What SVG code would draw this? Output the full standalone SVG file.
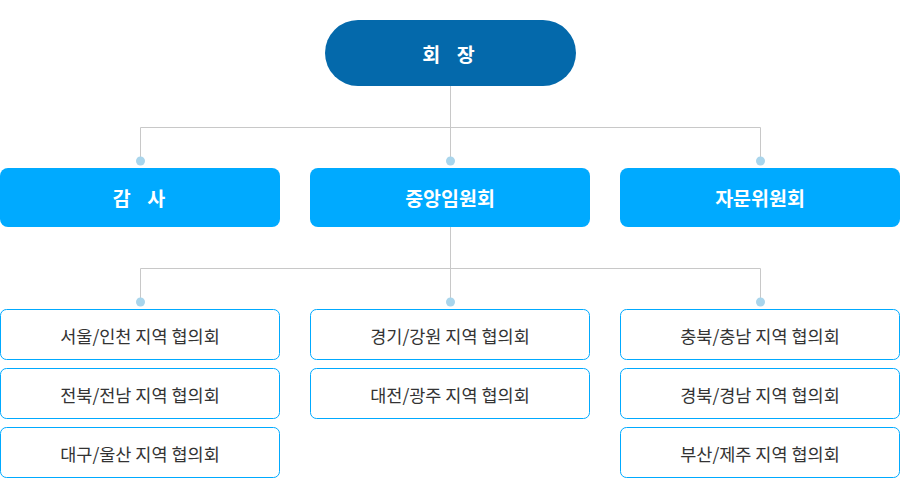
<svg xmlns="http://www.w3.org/2000/svg" width="900" height="500" viewBox="0 0 900 500">
<style>
.t{font-family:"Noto Sans CJK KR","Noto Sans",sans-serif;text-anchor:middle;dominant-baseline:central}
.w{fill:#fff;font-weight:bold;font-size:19.5px}
.sp{letter-spacing:6px}
.g{fill:#333;font-size:17.5px}
.l2{fill:#00aaff}
.l3{fill:#fff;stroke:#00aaff;stroke-width:1}
.ln{fill:none;stroke:#c8c8c8;stroke-width:1}
.dot{fill:#a9d5ec}
</style>
<rect width="900" height="500" fill="#fff"/>
<g id="connectors">
<path class="ln" d="M450.5 86V127.5M140.5 161V127.5H760.5V161M450.5 127.5V161"/>
<path class="ln" d="M450.5 227V268.5M140.5 302V268.5H760.5V302M450.5 268.5V302"/>
<circle class="dot" cx="140.5" cy="161" r="4.5"/>
<circle class="dot" cx="450.5" cy="161" r="4.5"/>
<circle class="dot" cx="760.5" cy="161" r="4.5"/>
<circle class="dot" cx="140.5" cy="302" r="4.5"/>
<circle class="dot" cx="450.5" cy="302" r="4.5"/>
<circle class="dot" cx="760.5" cy="302" r="4.5"/>
</g>
<g id="president"><rect x="325" y="20" width="251" height="66" rx="33" fill="#0469ab"/><text class="t w sp" x="451.5" y="53">회 장</text></g>
<g id="audit"><rect class="l2" x="0" y="168" width="280" height="59" rx="8"/><text class="t w sp" x="142" y="197.5">감 사</text></g>
<g id="central"><rect class="l2" x="310" y="168" width="280" height="59" rx="8"/><text class="t w" x="450" y="197.5">중앙임원회</text></g>
<g id="advisory"><rect class="l2" x="620" y="168" width="280" height="59" rx="8"/><text class="t w" x="760" y="197.5">자문위원회</text></g>
<g id="seoul"><rect class="l3" x="0.5" y="309.5" width="279" height="50" rx="6"/><text class="t g" x="140" y="335">서울/인천 지역 협의회</text></g>
<g id="jeonbuk"><rect class="l3" x="0.5" y="368.5" width="279" height="50" rx="6"/><text class="t g" x="140" y="394">전북/전남 지역 협의회</text></g>
<g id="daegu"><rect class="l3" x="0.5" y="427.5" width="279" height="50" rx="6"/><text class="t g" x="140" y="453">대구/울산 지역 협의회</text></g>
<g id="gyeonggi"><rect class="l3" x="310.5" y="309.5" width="279" height="50" rx="6"/><text class="t g" x="450" y="335">경기/강원 지역 협의회</text></g>
<g id="daejeon"><rect class="l3" x="310.5" y="368.5" width="279" height="50" rx="6"/><text class="t g" x="450" y="394">대전/광주 지역 협의회</text></g>
<g id="chungbuk"><rect class="l3" x="620.5" y="309.5" width="279" height="50" rx="6"/><text class="t g" x="760" y="335">충북/충남 지역 협의회</text></g>
<g id="gyeongbuk"><rect class="l3" x="620.5" y="368.5" width="279" height="50" rx="6"/><text class="t g" x="760" y="394">경북/경남 지역 협의회</text></g>
<g id="busan"><rect class="l3" x="620.5" y="427.5" width="279" height="50" rx="6"/><text class="t g" x="760" y="453">부산/제주 지역 협의회</text></g>
</svg>
